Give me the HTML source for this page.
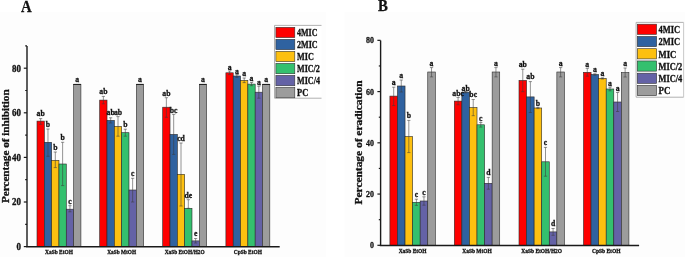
<!DOCTYPE html><html><head><meta charset="utf-8"><style>html,body{margin:0;padding:0;background:#fff;width:685px;height:257px;overflow:hidden}svg{display:block;will-change:transform}.s{font-family:"Liberation Serif",serif;fill:#111;stroke:#111;stroke-width:0.3px}</style></head><body>
<svg width="685" height="257" viewBox="0 0 685 257">
<rect width="685" height="257" fill="#fff"/>
<rect x="0" y="11.7" width="326" height="245.3" fill="#fdfdfd"/>
<text transform="translate(21.0 11.7) scale(0.89 1)" font-size="16.6" font-weight="bold" class="s">A</text>
<rect x="37.00" y="121.10" width="7.32" height="125.50" fill="#fe0000" stroke="#2a2a2a" stroke-width="0.6"/>
<rect x="44.32" y="142.30" width="7.32" height="104.30" fill="#2f62a0" stroke="#2a2a2a" stroke-width="0.6"/>
<rect x="51.64" y="160.30" width="7.32" height="86.30" fill="#fdc010" stroke="#2a2a2a" stroke-width="0.6"/>
<rect x="58.96" y="164.00" width="7.32" height="82.60" fill="#34c06e" stroke="#2a2a2a" stroke-width="0.6"/>
<rect x="66.28" y="209.20" width="7.32" height="37.40" fill="#6462a6" stroke="#2a2a2a" stroke-width="0.6"/>
<rect x="73.60" y="84.40" width="7.32" height="162.20" fill="#9c9c9c" stroke="#2a2a2a" stroke-width="0.6"/>
<rect x="99.70" y="100.10" width="7.32" height="146.50" fill="#fe0000" stroke="#2a2a2a" stroke-width="0.6"/>
<rect x="107.02" y="120.40" width="7.32" height="126.20" fill="#2f62a0" stroke="#2a2a2a" stroke-width="0.6"/>
<rect x="114.34" y="126.40" width="7.32" height="120.20" fill="#fdc010" stroke="#2a2a2a" stroke-width="0.6"/>
<rect x="121.66" y="132.70" width="7.32" height="113.90" fill="#34c06e" stroke="#2a2a2a" stroke-width="0.6"/>
<rect x="128.98" y="190.00" width="7.32" height="56.60" fill="#6462a6" stroke="#2a2a2a" stroke-width="0.6"/>
<rect x="136.30" y="84.40" width="7.32" height="162.20" fill="#9c9c9c" stroke="#2a2a2a" stroke-width="0.6"/>
<rect x="162.70" y="107.20" width="7.32" height="139.40" fill="#fe0000" stroke="#2a2a2a" stroke-width="0.6"/>
<rect x="170.02" y="134.40" width="7.32" height="112.20" fill="#2f62a0" stroke="#2a2a2a" stroke-width="0.6"/>
<rect x="177.34" y="174.30" width="7.32" height="72.30" fill="#fdc010" stroke="#2a2a2a" stroke-width="0.6"/>
<rect x="184.66" y="208.30" width="7.32" height="38.30" fill="#34c06e" stroke="#2a2a2a" stroke-width="0.6"/>
<rect x="191.98" y="240.90" width="7.32" height="5.70" fill="#6462a6" stroke="#2a2a2a" stroke-width="0.6"/>
<rect x="199.30" y="84.40" width="7.32" height="162.20" fill="#9c9c9c" stroke="#2a2a2a" stroke-width="0.6"/>
<rect x="225.90" y="72.80" width="7.32" height="173.80" fill="#fe0000" stroke="#2a2a2a" stroke-width="0.6"/>
<rect x="233.22" y="76.00" width="7.32" height="170.60" fill="#2f62a0" stroke="#2a2a2a" stroke-width="0.6"/>
<rect x="240.54" y="80.30" width="7.32" height="166.30" fill="#fdc010" stroke="#2a2a2a" stroke-width="0.6"/>
<rect x="247.86" y="84.10" width="7.32" height="162.50" fill="#34c06e" stroke="#2a2a2a" stroke-width="0.6"/>
<rect x="255.18" y="92.20" width="7.32" height="154.40" fill="#6462a6" stroke="#2a2a2a" stroke-width="0.6"/>
<rect x="262.50" y="84.40" width="7.32" height="162.20" fill="#9c9c9c" stroke="#2a2a2a" stroke-width="0.6"/>
<path d="M40.66 118.60V124.30M39.06 118.60h3.2M39.06 124.30h3.2" stroke="#3a3a3a" stroke-width="0.55" fill="none"/>
<text transform="translate(40.66 116.30) scale(0.86 1)" font-size="9.0" font-weight="bold" text-anchor="middle" class="s">ab</text>
<path d="M47.98 129.00V156.30M46.38 129.00h3.2M46.38 156.30h3.2" stroke="#3a3a3a" stroke-width="0.55" fill="none"/>
<text transform="translate(47.98 126.90) scale(0.86 1)" font-size="9.0" font-weight="bold" text-anchor="middle" class="s">b</text>
<path d="M55.30 152.00V167.60M53.70 152.00h3.2M53.70 167.60h3.2" stroke="#3a3a3a" stroke-width="0.55" fill="none"/>
<text transform="translate(55.30 149.90) scale(0.86 1)" font-size="9.0" font-weight="bold" text-anchor="middle" class="s">b</text>
<path d="M62.62 142.30V185.60M61.02 142.30h3.2M61.02 185.60h3.2" stroke="#3a3a3a" stroke-width="0.55" fill="none"/>
<text transform="translate(62.62 140.30) scale(0.86 1)" font-size="9.0" font-weight="bold" text-anchor="middle" class="s">b</text>
<path d="M69.94 205.70V211.80M68.34 205.70h3.2M68.34 211.80h3.2" stroke="#3a3a3a" stroke-width="0.55" fill="none"/>
<text transform="translate(69.94 203.80) scale(0.86 1)" font-size="9.0" font-weight="bold" text-anchor="middle" class="s">c</text>
<path d="M73.60 84.40h7.32" stroke="#111" stroke-width="0.9"/>
<text transform="translate(77.26 81.60) scale(0.86 1)" font-size="9.0" font-weight="bold" text-anchor="middle" class="s">a</text>
<path d="M103.36 96.40V103.80M101.76 96.40h3.2M101.76 103.80h3.2" stroke="#3a3a3a" stroke-width="0.55" fill="none"/>
<text transform="translate(103.36 94.30) scale(0.86 1)" font-size="9.0" font-weight="bold" text-anchor="middle" class="s">ab</text>
<path d="M110.68 117.80V123.00M109.08 117.80h3.2M109.08 123.00h3.2" stroke="#3a3a3a" stroke-width="0.55" fill="none"/>
<text transform="translate(110.68 114.90) scale(0.86 1)" font-size="9.0" font-weight="bold" text-anchor="middle" class="s">ab</text>
<path d="M118.00 116.60V136.20M116.40 116.60h3.2M116.40 136.20h3.2" stroke="#3a3a3a" stroke-width="0.55" fill="none"/>
<text transform="translate(118.00 114.90) scale(0.86 1)" font-size="9.0" font-weight="bold" text-anchor="middle" class="s">ab</text>
<path d="M125.32 129.20V136.20M123.72 129.20h3.2M123.72 136.20h3.2" stroke="#3a3a3a" stroke-width="0.55" fill="none"/>
<text transform="translate(125.32 127.40) scale(0.86 1)" font-size="9.0" font-weight="bold" text-anchor="middle" class="s">b</text>
<path d="M132.64 178.30V202.00M131.04 178.30h3.2M131.04 202.00h3.2" stroke="#3a3a3a" stroke-width="0.55" fill="none"/>
<text transform="translate(132.64 176.20) scale(0.86 1)" font-size="9.0" font-weight="bold" text-anchor="middle" class="s">c</text>
<path d="M136.30 84.40h7.32" stroke="#111" stroke-width="0.9"/>
<text transform="translate(139.96 81.60) scale(0.86 1)" font-size="9.0" font-weight="bold" text-anchor="middle" class="s">a</text>
<path d="M166.36 97.70V117.30M164.76 97.70h3.2M164.76 117.30h3.2" stroke="#3a3a3a" stroke-width="0.55" fill="none"/>
<text transform="translate(166.36 95.80) scale(0.86 1)" font-size="9.0" font-weight="bold" text-anchor="middle" class="s">ab</text>
<path d="M173.68 114.40V154.40M172.08 114.40h3.2M172.08 154.40h3.2" stroke="#3a3a3a" stroke-width="0.55" fill="none"/>
<text transform="translate(173.68 112.70) scale(0.86 1)" font-size="9.0" font-weight="bold" text-anchor="middle" class="s">bc</text>
<path d="M181.00 143.00V206.00M179.40 143.00h3.2M179.40 206.00h3.2" stroke="#3a3a3a" stroke-width="0.55" fill="none"/>
<text transform="translate(181.00 141.20) scale(0.86 1)" font-size="9.0" font-weight="bold" text-anchor="middle" class="s">cd</text>
<path d="M188.32 199.70V208.30M186.72 199.70h3.2M186.72 208.30h3.2" stroke="#3a3a3a" stroke-width="0.55" fill="none"/>
<text transform="translate(188.32 198.00) scale(0.86 1)" font-size="9.0" font-weight="bold" text-anchor="middle" class="s">de</text>
<path d="M195.64 238.50V243.00M194.04 238.50h3.2M194.04 243.00h3.2" stroke="#3a3a3a" stroke-width="0.55" fill="none"/>
<text transform="translate(195.64 236.30) scale(0.86 1)" font-size="9.0" font-weight="bold" text-anchor="middle" class="s">e</text>
<path d="M199.30 84.40h7.32" stroke="#111" stroke-width="0.9"/>
<text transform="translate(202.96 81.60) scale(0.86 1)" font-size="9.0" font-weight="bold" text-anchor="middle" class="s">a</text>
<path d="M229.56 71.00V74.60M227.96 71.00h3.2M227.96 74.60h3.2" stroke="#3a3a3a" stroke-width="0.55" fill="none"/>
<text transform="translate(229.56 69.90) scale(0.86 1)" font-size="9.0" font-weight="bold" text-anchor="middle" class="s">a</text>
<path d="M236.88 74.60V77.40M235.28 74.60h3.2M235.28 77.40h3.2" stroke="#3a3a3a" stroke-width="0.55" fill="none"/>
<text transform="translate(236.88 73.50) scale(0.86 1)" font-size="9.0" font-weight="bold" text-anchor="middle" class="s">a</text>
<path d="M244.20 78.00V82.60M242.60 78.00h3.2M242.60 82.60h3.2" stroke="#3a3a3a" stroke-width="0.55" fill="none"/>
<text transform="translate(244.20 76.30) scale(0.86 1)" font-size="9.0" font-weight="bold" text-anchor="middle" class="s">a</text>
<path d="M251.52 82.50V85.70M249.92 82.50h3.2M249.92 85.70h3.2" stroke="#3a3a3a" stroke-width="0.55" fill="none"/>
<text transform="translate(251.52 80.90) scale(0.86 1)" font-size="9.0" font-weight="bold" text-anchor="middle" class="s">a</text>
<path d="M258.84 86.20V98.20M257.24 86.20h3.2M257.24 98.20h3.2" stroke="#3a3a3a" stroke-width="0.55" fill="none"/>
<text transform="translate(258.84 84.90) scale(0.86 1)" font-size="9.0" font-weight="bold" text-anchor="middle" class="s">a</text>
<path d="M262.50 84.40h7.32" stroke="#111" stroke-width="0.9"/>
<text transform="translate(266.16 81.80) scale(0.86 1)" font-size="9.0" font-weight="bold" text-anchor="middle" class="s">a</text>
<path d="M27.0 45.9V247.60000000000002M26.2 246.8H279.7" stroke="#1a1a1a" stroke-width="1.4" fill="none"/>
<path d="M23.8 246.60H27.0" stroke="#1a1a1a" stroke-width="1.2"/>
<text transform="translate(21.0 250.00) scale(0.93 1)" font-size="9.6" font-weight="bold" text-anchor="end" class="s">0</text>
<path d="M23.8 202.00H27.0" stroke="#1a1a1a" stroke-width="1.2"/>
<text transform="translate(21.0 205.40) scale(0.93 1)" font-size="9.6" font-weight="bold" text-anchor="end" class="s">20</text>
<path d="M23.8 157.40H27.0" stroke="#1a1a1a" stroke-width="1.2"/>
<text transform="translate(21.0 160.80) scale(0.93 1)" font-size="9.6" font-weight="bold" text-anchor="end" class="s">40</text>
<path d="M23.8 112.80H27.0" stroke="#1a1a1a" stroke-width="1.2"/>
<text transform="translate(21.0 116.20) scale(0.93 1)" font-size="9.6" font-weight="bold" text-anchor="end" class="s">60</text>
<path d="M23.8 68.20H27.0" stroke="#1a1a1a" stroke-width="1.2"/>
<text transform="translate(21.0 71.60) scale(0.93 1)" font-size="9.6" font-weight="bold" text-anchor="end" class="s">80</text>
<path d="M25.2 224.30H27.0" stroke="#1a1a1a" stroke-width="1.2"/>
<path d="M25.2 179.70H27.0" stroke="#1a1a1a" stroke-width="1.2"/>
<path d="M25.2 135.10H27.0" stroke="#1a1a1a" stroke-width="1.2"/>
<path d="M25.2 90.50H27.0" stroke="#1a1a1a" stroke-width="1.2"/>
<path d="M25.2 45.90H27.0" stroke="#1a1a1a" stroke-width="1.2"/>
<text x="45.06" y="253.6" font-size="6.6" font-weight="bold" textLength="27.8" lengthAdjust="spacingAndGlyphs" class="s">XaSb EtOH</text>
<text x="107.26" y="253.6" font-size="6.6" font-weight="bold" textLength="28.8" lengthAdjust="spacingAndGlyphs" class="s">XaSb MtOH</text>
<text x="164.66" y="253.6" font-size="6.6" font-weight="bold" textLength="40.0" lengthAdjust="spacingAndGlyphs" class="s">XaSb EtOH/H2O</text>
<text x="233.71" y="253.6" font-size="6.6" font-weight="bold" textLength="28.3" lengthAdjust="spacingAndGlyphs" class="s">CpSb EtOH</text>
<text transform="translate(8.5 146.2) rotate(-90)" x="-56.80" y="0" font-size="9.7" font-weight="bold" textLength="113.6" lengthAdjust="spacingAndGlyphs" class="s">Percentage of inhibition</text>
<rect x="274.5" y="25.4" width="47.0" height="72.80000000000001" fill="#ffffff"/>
<path d="M321.5 25.4H274.5V98.2H321.5" fill="none" stroke="#a8a8a8" stroke-width="0.9"/>
<rect x="275.9" y="27.30" width="18.9" height="10.3" fill="#fe0000" stroke="#333" stroke-width="0.6"/>
<text x="297.0" y="36.20" font-size="9.6" font-weight="bold" textLength="20.5" lengthAdjust="spacingAndGlyphs" class="s">4MIC</text>
<rect x="275.9" y="39.34" width="18.9" height="10.3" fill="#2f62a0" stroke="#333" stroke-width="0.6"/>
<text x="297.0" y="48.24" font-size="9.6" font-weight="bold" textLength="20.7" lengthAdjust="spacingAndGlyphs" class="s">2MIC</text>
<rect x="275.9" y="51.38" width="18.9" height="10.3" fill="#fdc010" stroke="#333" stroke-width="0.6"/>
<text x="297.0" y="60.28" font-size="9.6" font-weight="bold" textLength="16.8" lengthAdjust="spacingAndGlyphs" class="s">MIC</text>
<rect x="275.9" y="63.42" width="18.9" height="10.3" fill="#34c06e" stroke="#333" stroke-width="0.6"/>
<text x="297.0" y="72.32" font-size="9.6" font-weight="bold" textLength="22.9" lengthAdjust="spacingAndGlyphs" class="s">MIC/2</text>
<rect x="275.9" y="75.46" width="18.9" height="10.3" fill="#6462a6" stroke="#333" stroke-width="0.6"/>
<text x="297.0" y="84.36" font-size="9.6" font-weight="bold" textLength="23.0" lengthAdjust="spacingAndGlyphs" class="s">MIC/4</text>
<rect x="275.9" y="87.50" width="18.9" height="10.3" fill="#9c9c9c" stroke="#333" stroke-width="0.6"/>
<text x="297.0" y="96.40" font-size="9.6" font-weight="bold" textLength="11.2" lengthAdjust="spacingAndGlyphs" class="s">PC</text>
<rect x="344.5" y="11.7" width="340.5" height="245.3" fill="#fdfdfd"/>
<text transform="translate(378.0 11.3) scale(0.89 1)" font-size="16.6" font-weight="bold" class="s">B</text>
<rect x="389.90" y="96.10" width="7.57" height="149.20" fill="#fe0000" stroke="#2a2a2a" stroke-width="0.6"/>
<rect x="397.47" y="86.00" width="7.57" height="159.30" fill="#2f62a0" stroke="#2a2a2a" stroke-width="0.6"/>
<rect x="405.04" y="136.50" width="7.57" height="108.80" fill="#fdc010" stroke="#2a2a2a" stroke-width="0.6"/>
<rect x="412.61" y="202.30" width="7.57" height="43.00" fill="#34c06e" stroke="#2a2a2a" stroke-width="0.6"/>
<rect x="420.18" y="201.00" width="7.57" height="44.30" fill="#6462a6" stroke="#2a2a2a" stroke-width="0.6"/>
<rect x="427.75" y="72.00" width="7.57" height="173.30" fill="#9c9c9c" stroke="#2a2a2a" stroke-width="0.6"/>
<rect x="454.30" y="101.10" width="7.57" height="144.20" fill="#fe0000" stroke="#2a2a2a" stroke-width="0.6"/>
<rect x="461.87" y="92.20" width="7.57" height="153.10" fill="#2f62a0" stroke="#2a2a2a" stroke-width="0.6"/>
<rect x="469.44" y="107.50" width="7.57" height="137.80" fill="#fdc010" stroke="#2a2a2a" stroke-width="0.6"/>
<rect x="477.01" y="124.80" width="7.57" height="120.50" fill="#34c06e" stroke="#2a2a2a" stroke-width="0.6"/>
<rect x="484.58" y="183.30" width="7.57" height="62.00" fill="#6462a6" stroke="#2a2a2a" stroke-width="0.6"/>
<rect x="492.15" y="72.00" width="7.57" height="173.30" fill="#9c9c9c" stroke="#2a2a2a" stroke-width="0.6"/>
<rect x="519.00" y="80.40" width="7.57" height="164.90" fill="#fe0000" stroke="#2a2a2a" stroke-width="0.6"/>
<rect x="526.57" y="96.90" width="7.57" height="148.40" fill="#2f62a0" stroke="#2a2a2a" stroke-width="0.6"/>
<rect x="534.14" y="108.00" width="7.57" height="137.30" fill="#fdc010" stroke="#2a2a2a" stroke-width="0.6"/>
<rect x="541.71" y="161.80" width="7.57" height="83.50" fill="#34c06e" stroke="#2a2a2a" stroke-width="0.6"/>
<rect x="549.28" y="231.90" width="7.57" height="13.40" fill="#6462a6" stroke="#2a2a2a" stroke-width="0.6"/>
<rect x="556.85" y="72.00" width="7.57" height="173.30" fill="#9c9c9c" stroke="#2a2a2a" stroke-width="0.6"/>
<rect x="583.50" y="72.30" width="7.57" height="173.00" fill="#fe0000" stroke="#2a2a2a" stroke-width="0.6"/>
<rect x="591.07" y="74.50" width="7.57" height="170.80" fill="#2f62a0" stroke="#2a2a2a" stroke-width="0.6"/>
<rect x="598.64" y="78.40" width="7.57" height="166.90" fill="#fdc010" stroke="#2a2a2a" stroke-width="0.6"/>
<rect x="606.21" y="89.00" width="7.57" height="156.30" fill="#34c06e" stroke="#2a2a2a" stroke-width="0.6"/>
<rect x="613.78" y="102.00" width="7.57" height="143.30" fill="#6462a6" stroke="#2a2a2a" stroke-width="0.6"/>
<rect x="621.35" y="72.50" width="7.57" height="172.80" fill="#9c9c9c" stroke="#2a2a2a" stroke-width="0.6"/>
<path d="M393.69 87.20V105.60M392.08 87.20h3.2M392.08 105.60h3.2" stroke="#3a3a3a" stroke-width="0.55" fill="none"/>
<text transform="translate(393.69 85.10) scale(0.86 1)" font-size="9.0" font-weight="bold" text-anchor="middle" class="s">a</text>
<path d="M401.25 80.00V92.00M399.65 80.00h3.2M399.65 92.00h3.2" stroke="#3a3a3a" stroke-width="0.55" fill="none"/>
<text transform="translate(401.25 78.00) scale(0.86 1)" font-size="9.0" font-weight="bold" text-anchor="middle" class="s">a</text>
<path d="M408.82 120.40V152.60M407.22 120.40h3.2M407.22 152.60h3.2" stroke="#3a3a3a" stroke-width="0.55" fill="none"/>
<text transform="translate(408.82 118.10) scale(0.86 1)" font-size="9.0" font-weight="bold" text-anchor="middle" class="s">b</text>
<path d="M416.39 199.20V205.40M414.79 199.20h3.2M414.79 205.40h3.2" stroke="#3a3a3a" stroke-width="0.55" fill="none"/>
<text transform="translate(416.39 197.10) scale(0.86 1)" font-size="9.0" font-weight="bold" text-anchor="middle" class="s">c</text>
<path d="M423.96 196.80V205.20M422.36 196.80h3.2M422.36 205.20h3.2" stroke="#3a3a3a" stroke-width="0.55" fill="none"/>
<text transform="translate(423.96 194.70) scale(0.86 1)" font-size="9.0" font-weight="bold" text-anchor="middle" class="s">c</text>
<path d="M431.53 67.60V76.90M429.93 67.60h3.2M429.93 76.90h3.2" stroke="#3a3a3a" stroke-width="0.55" fill="none"/>
<text transform="translate(431.53 65.90) scale(0.86 1)" font-size="9.0" font-weight="bold" text-anchor="middle" class="s">a</text>
<path d="M458.09 97.40V104.80M456.49 97.40h3.2M456.49 104.80h3.2" stroke="#3a3a3a" stroke-width="0.55" fill="none"/>
<text transform="translate(458.09 95.70) scale(0.86 1)" font-size="9.0" font-weight="bold" text-anchor="middle" class="s">abc</text>
<path d="M465.66 91.50V92.90M464.06 91.50h3.2M464.06 92.90h3.2" stroke="#3a3a3a" stroke-width="0.55" fill="none"/>
<text transform="translate(465.66 90.50) scale(0.86 1)" font-size="9.0" font-weight="bold" text-anchor="middle" class="s">ab</text>
<path d="M473.23 99.50V115.70M471.62 99.50h3.2M471.62 115.70h3.2" stroke="#3a3a3a" stroke-width="0.55" fill="none"/>
<text transform="translate(473.23 97.30) scale(0.86 1)" font-size="9.0" font-weight="bold" text-anchor="middle" class="s">bc</text>
<path d="M480.80 122.50V127.10M479.19 122.50h3.2M479.19 127.10h3.2" stroke="#3a3a3a" stroke-width="0.55" fill="none"/>
<text transform="translate(480.80 120.80) scale(0.86 1)" font-size="9.0" font-weight="bold" text-anchor="middle" class="s">c</text>
<path d="M488.37 177.40V189.20M486.76 177.40h3.2M486.76 189.20h3.2" stroke="#3a3a3a" stroke-width="0.55" fill="none"/>
<text transform="translate(488.37 174.90) scale(0.86 1)" font-size="9.0" font-weight="bold" text-anchor="middle" class="s">d</text>
<path d="M495.94 67.60V76.90M494.33 67.60h3.2M494.33 76.90h3.2" stroke="#3a3a3a" stroke-width="0.55" fill="none"/>
<text transform="translate(495.94 65.90) scale(0.86 1)" font-size="9.0" font-weight="bold" text-anchor="middle" class="s">a</text>
<path d="M522.78 69.20V91.70M521.18 69.20h3.2M521.18 91.70h3.2" stroke="#3a3a3a" stroke-width="0.55" fill="none"/>
<text transform="translate(522.78 66.70) scale(0.86 1)" font-size="9.0" font-weight="bold" text-anchor="middle" class="s">ab</text>
<path d="M530.36 81.60V112.50M528.75 81.60h3.2M528.75 112.50h3.2" stroke="#3a3a3a" stroke-width="0.55" fill="none"/>
<text transform="translate(530.36 79.30) scale(0.86 1)" font-size="9.0" font-weight="bold" text-anchor="middle" class="s">ab</text>
<path d="M537.92 107.40V108.60M536.32 107.40h3.2M536.32 108.60h3.2" stroke="#3a3a3a" stroke-width="0.55" fill="none"/>
<text transform="translate(537.92 105.50) scale(0.86 1)" font-size="9.0" font-weight="bold" text-anchor="middle" class="s">b</text>
<path d="M545.50 147.40V176.20M543.89 147.40h3.2M543.89 176.20h3.2" stroke="#3a3a3a" stroke-width="0.55" fill="none"/>
<text transform="translate(545.50 145.10) scale(0.86 1)" font-size="9.0" font-weight="bold" text-anchor="middle" class="s">c</text>
<path d="M553.07 228.50V235.30M551.47 228.50h3.2M551.47 235.30h3.2" stroke="#3a3a3a" stroke-width="0.55" fill="none"/>
<text transform="translate(553.07 225.70) scale(0.86 1)" font-size="9.0" font-weight="bold" text-anchor="middle" class="s">d</text>
<path d="M560.63 67.60V76.90M559.03 67.60h3.2M559.03 76.90h3.2" stroke="#3a3a3a" stroke-width="0.55" fill="none"/>
<text transform="translate(560.63 65.90) scale(0.86 1)" font-size="9.0" font-weight="bold" text-anchor="middle" class="s">a</text>
<path d="M587.28 68.40V76.20M585.68 68.40h3.2M585.68 76.20h3.2" stroke="#3a3a3a" stroke-width="0.55" fill="none"/>
<text transform="translate(587.28 66.70) scale(0.86 1)" font-size="9.0" font-weight="bold" text-anchor="middle" class="s">a</text>
<path d="M594.86 73.80V75.20M593.25 73.80h3.2M593.25 75.20h3.2" stroke="#3a3a3a" stroke-width="0.55" fill="none"/>
<text transform="translate(594.86 72.00) scale(0.86 1)" font-size="9.0" font-weight="bold" text-anchor="middle" class="s">a</text>
<path d="M602.42 77.80V79.00M600.82 77.80h3.2M600.82 79.00h3.2" stroke="#3a3a3a" stroke-width="0.55" fill="none"/>
<text transform="translate(602.42 76.30) scale(0.86 1)" font-size="9.0" font-weight="bold" text-anchor="middle" class="s">a</text>
<path d="M610.00 87.20V90.80M608.39 87.20h3.2M608.39 90.80h3.2" stroke="#3a3a3a" stroke-width="0.55" fill="none"/>
<text transform="translate(610.00 85.50) scale(0.86 1)" font-size="9.0" font-weight="bold" text-anchor="middle" class="s">a</text>
<path d="M617.57 92.50V111.50M615.97 92.50h3.2M615.97 111.50h3.2" stroke="#3a3a3a" stroke-width="0.55" fill="none"/>
<text transform="translate(617.57 91.20) scale(0.86 1)" font-size="9.0" font-weight="bold" text-anchor="middle" class="s">a</text>
<path d="M625.13 68.00V77.00M623.53 68.00h3.2M623.53 77.00h3.2" stroke="#3a3a3a" stroke-width="0.55" fill="none"/>
<text transform="translate(625.13 66.30) scale(0.86 1)" font-size="9.0" font-weight="bold" text-anchor="middle" class="s">a</text>
<path d="M380.6 40.4V246.3M379.8 245.5H639.1" stroke="#1a1a1a" stroke-width="1.4" fill="none"/>
<path d="M377.40000000000003 245.30H380.6" stroke="#1a1a1a" stroke-width="1.2"/>
<text transform="translate(374.0 248.30) scale(0.88 1)" font-size="9.0" font-weight="bold" text-anchor="end" class="s">0</text>
<path d="M377.40000000000003 194.06H380.6" stroke="#1a1a1a" stroke-width="1.2"/>
<text transform="translate(374.0 197.06) scale(0.88 1)" font-size="9.0" font-weight="bold" text-anchor="end" class="s">20</text>
<path d="M377.40000000000003 142.82H380.6" stroke="#1a1a1a" stroke-width="1.2"/>
<text transform="translate(374.0 145.82) scale(0.88 1)" font-size="9.0" font-weight="bold" text-anchor="end" class="s">40</text>
<path d="M377.40000000000003 91.58H380.6" stroke="#1a1a1a" stroke-width="1.2"/>
<text transform="translate(374.0 94.58) scale(0.88 1)" font-size="9.0" font-weight="bold" text-anchor="end" class="s">60</text>
<path d="M377.40000000000003 40.34H380.6" stroke="#1a1a1a" stroke-width="1.2"/>
<text transform="translate(374.0 43.34) scale(0.88 1)" font-size="9.0" font-weight="bold" text-anchor="end" class="s">80</text>
<path d="M378.8 219.68H380.6" stroke="#1a1a1a" stroke-width="1.2"/>
<path d="M378.8 168.44H380.6" stroke="#1a1a1a" stroke-width="1.2"/>
<path d="M378.8 117.20H380.6" stroke="#1a1a1a" stroke-width="1.2"/>
<path d="M378.8 65.96H380.6" stroke="#1a1a1a" stroke-width="1.2"/>
<text x="398.66" y="253.2" font-size="6.6" font-weight="bold" textLength="27.9" lengthAdjust="spacingAndGlyphs" class="s">XaSb EtOH</text>
<text x="462.21" y="253.2" font-size="6.6" font-weight="bold" textLength="29.6" lengthAdjust="spacingAndGlyphs" class="s">XaSb MtOH</text>
<text x="521.31" y="253.2" font-size="6.6" font-weight="bold" textLength="40.8" lengthAdjust="spacingAndGlyphs" class="s">XaSb EtOH/H2O</text>
<text x="591.91" y="253.2" font-size="6.6" font-weight="bold" textLength="28.6" lengthAdjust="spacingAndGlyphs" class="s">CpSb EtOH</text>
<text transform="translate(361.9 142.5) rotate(-90)" x="-62.00" y="0" font-size="10.3" font-weight="bold" textLength="124.0" lengthAdjust="spacingAndGlyphs" class="s">Percentage of eradication</text>
<rect x="636.1" y="22.4" width="47.5" height="74.80000000000001" fill="#ffffff"/>
<path d="M683.6 22.4H636.1V97.2H683.6" fill="none" stroke="#a8a8a8" stroke-width="0.9"/>
<path d="M683.6 22.4V97.2" fill="none" stroke="#c4c4c4" stroke-width="0.9"/>
<rect x="637.3" y="24.20" width="19.3" height="10.2" fill="#fe0000" stroke="#333" stroke-width="0.6"/>
<text x="658.5" y="33.10" font-size="9.6" font-weight="bold" textLength="21.6" lengthAdjust="spacingAndGlyphs" class="s">4MIC</text>
<rect x="637.3" y="36.45" width="19.3" height="10.2" fill="#2f62a0" stroke="#333" stroke-width="0.6"/>
<text x="658.5" y="45.35" font-size="9.6" font-weight="bold" textLength="21.6" lengthAdjust="spacingAndGlyphs" class="s">2MIC</text>
<rect x="637.3" y="48.70" width="19.3" height="10.2" fill="#fdc010" stroke="#333" stroke-width="0.6"/>
<text x="658.5" y="57.60" font-size="9.6" font-weight="bold" textLength="17.8" lengthAdjust="spacingAndGlyphs" class="s">MIC</text>
<rect x="637.3" y="60.95" width="19.3" height="10.2" fill="#34c06e" stroke="#333" stroke-width="0.6"/>
<text x="658.5" y="69.85" font-size="9.6" font-weight="bold" textLength="23.8" lengthAdjust="spacingAndGlyphs" class="s">MIC/2</text>
<rect x="637.3" y="73.20" width="19.3" height="10.2" fill="#6462a6" stroke="#333" stroke-width="0.6"/>
<text x="658.5" y="82.10" font-size="9.6" font-weight="bold" textLength="23.8" lengthAdjust="spacingAndGlyphs" class="s">MIC/4</text>
<rect x="637.3" y="85.45" width="19.3" height="10.2" fill="#9c9c9c" stroke="#333" stroke-width="0.6"/>
<text x="658.5" y="94.35" font-size="9.6" font-weight="bold" textLength="11.8" lengthAdjust="spacingAndGlyphs" class="s">PC</text>
</svg></body></html>
